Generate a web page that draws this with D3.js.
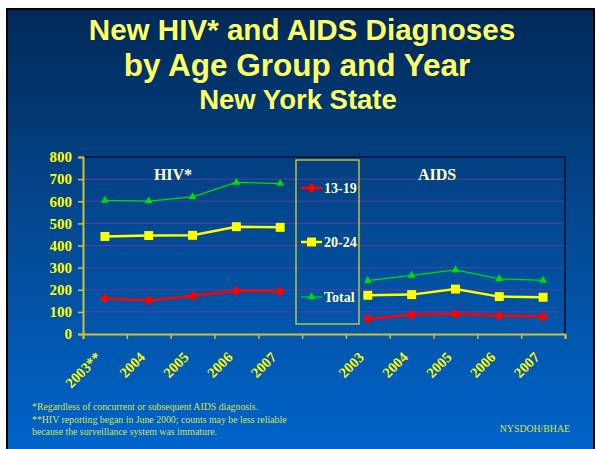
<!DOCTYPE html>
<html>
<head>
<meta charset="utf-8">
<script src="https://cdn.jsdelivr.net/npm/d3@7"></script>
<style>
  body { margin: 0; background: #fff; }
  svg { display: block; }
</style>
</head>
<body>
<svg id="chart" width="596" height="449"></svg>
<script>
// categories: 5 HIV years, one empty slot for the legend, 5 AIDS years
const categories = ["2003**", "2004", "2005", "2006", "2007", "", "2003", "2004", "2005", "2006", "2007"];
const hivIdx = [0, 1, 2, 3, 4];
const aidsIdx = [6, 7, 8, 9, 10];

const hivTeen = [161, 153, 172, 196, 193];
const hiv2024 = [441, 445, 446, 485, 482];
const hivTotal = [604, 601, 620, 685, 680];

const aidsTeen = [68, 87, 90, 83, 78];
const aids2024 = [175, 178, 203, 169, 166];
const aidsTotal = [241, 265, 290, 249, 242];

const seriesNames = ["13-19", "20-24", "Total"];
const yTicks = [0, 100, 200, 300, 400, 500, 600, 700, 800];

const svg = d3.select("#chart");

// slide background
const defs = svg.append("defs");
const grad = defs.append("linearGradient").attr("id", "bg")
    .attr("x1", 0).attr("y1", 0).attr("x2", 0).attr("y2", 1);
grad.append("stop").attr("offset", "0%").attr("stop-color", "#012957");
grad.append("stop").attr("offset", "45%").attr("stop-color", "#03478e");
grad.append("stop").attr("offset", "100%").attr("stop-color", "#0065cc");

svg.append("rect")
    .attr("x", 7).attr("y", 9)
    .attr("width", 587).attr("height", 445)
    .attr("fill", "url(#bg)")
    .attr("stroke", "#000").attr("stroke-width", 2);

// title
const titleLines = [
    { t: "New HIV* and AIDS Diagnoses", x: 302, y: 40, s: 29.6 },
    { t: "by Age Group and Year", x: 297, y: 76, s: 31.5 },
    { t: "New York State", x: 298, y: 109, s: 27.5 }
];
svg.selectAll(".title").data(titleLines).enter()
    .append("text")
    .attr("x", d => d.x).attr("y", d => d.y)
    .attr("text-anchor", "middle")
    .style("font-family", "'Liberation Sans', Arial, sans-serif")
    .style("font-weight", "bold")
    .style("font-size", d => d.s + "px")
    .style("fill", "#ffff66")
    .text(d => d.t);

// plot area
const pL = 83, pR = 565, pT = 157, pB = 334;
const x = d3.scaleBand().domain(d3.range(categories.length)).range([pL, pR]);
const xEdge = d3.scaleLinear().domain([0, categories.length]).range([pL, pR]);
const y = d3.scaleLinear().domain([0, 800]).range([pB, pT]);
const axisColor = "#c8c23c";

// gridlines
svg.append("g").selectAll("line")
    .data(yTicks.filter(v => v > 0 && v < 800)).enter()
    .append("line")
    .attr("x1", pL).attr("x2", pR)
    .attr("y1", d => y(d)).attr("y2", d => y(d))
    .attr("stroke", "#5a3c9c").attr("stroke-width", 1);

// dark frame top and right
svg.append("path")
    .attr("d", `M${pL},${y(800)}H${pR}V${pB}`)
    .attr("fill", "none").attr("stroke", "#0a0f2a").attr("stroke-width", 1.5);

// y axis
const yAxis = svg.append("g")
    .attr("transform", `translate(${pL},0)`)
    .call(d3.axisLeft(y).tickValues(yTicks).tickSize(5).tickPadding(6));
yAxis.select(".domain").attr("stroke", axisColor).attr("stroke-width", 2);
yAxis.selectAll(".tick line").attr("stroke", axisColor).attr("stroke-width", 1.5);
yAxis.selectAll("text")
    .style("font-family", "'Liberation Serif', 'Times New Roman', serif")
    .style("font-weight", "bold")
    .style("font-size", "15px")
    .style("fill", "#ffff00");

// x axis: ticks on band edges
const xAxis = svg.append("g")
    .attr("transform", `translate(0,${pB})`)
    .call(d3.axisBottom(xEdge).tickValues(d3.range(categories.length + 1)).tickSize(5).tickFormat(""));
xAxis.select(".domain").attr("stroke", axisColor).attr("stroke-width", 2);
xAxis.selectAll(".tick line").attr("stroke", axisColor).attr("stroke-width", 1.5);

// x labels, rotated
svg.append("g").selectAll("text")
    .data(categories.map((c, i) => ({ c, i })).filter(d => d.c !== "")).enter()
    .append("text")
    .attr("transform", d => `translate(${x(d.i) + x.bandwidth() / 2 - 10},${pB + 17}) rotate(-45)`)
    .attr("text-anchor", "end")
    .attr("dy", "0.7em")
    .style("font-family", "'Liberation Serif', 'Times New Roman', serif")
    .style("font-weight", "bold")
    .style("font-size", "14.5px")
    .style("fill", "#ffff00")
    .text(d => d.c);

// series
const cx = i => x(i) + x.bandwidth() / 2;
const line = d3.line().x(d => cx(d[0])).y(d => y(d[1]));

const series = [
    { name: seriesNames[2], color: "#00dd00", width: 1.2, shape: d3.symbolTriangle, size: 28, rot: 0, sets: [[hivIdx, hivTotal], [aidsIdx, aidsTotal]] },
    { name: seriesNames[1], color: "#ffff00", width: 2.5, shape: d3.symbolSquare, size: 80, rot: 0, sets: [[hivIdx, hiv2024], [aidsIdx, aids2024]] },
    { name: seriesNames[0], color: "#ff0000", width: 2.5, shape: d3.symbolSquare, size: 50, rot: 45, sets: [[hivIdx, hivTeen], [aidsIdx, aidsTeen]] }
];

series.forEach(s => {
    s.sets.forEach(([idx, vals]) => {
        const pts = idx.map((k, j) => [k, vals[j]]);
        svg.append("path")
            .attr("d", line(pts))
            .attr("fill", "none")
            .attr("stroke", s.color)
            .attr("stroke-width", s.width);
        svg.append("g").selectAll("path")
            .data(pts).enter()
            .append("path")
            .attr("transform", d => `translate(${cx(d[0])},${y(d[1])}) rotate(${s.rot})`)
            .attr("d", d3.symbol().type(s.shape).size(s.size))
            .attr("fill", s.color);
    });
});

// panel labels
const labelStyle = sel => sel
    .style("font-family", "'Liberation Serif', 'Times New Roman', serif")
    .style("font-weight", "bold")
    .style("font-size", "16px")
    .style("fill", "#ffffcc");
svg.append("text").attr("x", 173).attr("y", 180).attr("text-anchor", "middle").text("HIV*").call(labelStyle);
svg.append("text").attr("x", 437).attr("y", 180).attr("text-anchor", "middle").text("AIDS").call(labelStyle);

// legend
const lg = svg.append("g");
lg.append("rect")
    .attr("x", 296).attr("y", 160).attr("width", 63).attr("height", 164)
    .attr("fill", "none").attr("stroke", "#e8e030").attr("stroke-width", 1.2);
const legendY = [188, 242, 297];
[series[2], series[1], series[0]].forEach((s, i) => {
    const ly = legendY[i];
    lg.append("line")
        .attr("x1", 301).attr("x2", 322).attr("y1", ly).attr("y2", ly)
        .attr("stroke", s.color).attr("stroke-width", s.width);
    lg.append("path")
        .attr("transform", `translate(311.5,${ly}) rotate(${s.rot})`)
        .attr("d", d3.symbol().type(s.shape).size(s.size))
        .attr("fill", s.color);
    lg.append("text")
        .attr("x", 324).attr("y", ly + 5)
        .style("font-family", "'Liberation Serif', 'Times New Roman', serif")
        .style("font-weight", "bold")
        .style("font-size", "14px")
        .style("fill", "#ffffcc")
        .text(s.name);
});

// footnotes
const notes = [
    "*Regardless of concurrent or subsequent AIDS diagnosis.",
    "**HIV reporting began in June 2000; counts may be less reliable",
    "because the surveillance system was immature."
];
svg.append("g").selectAll("text")
    .data(notes).enter()
    .append("text")
    .attr("x", 32).attr("y", (d, i) => 410 + i * 12.5)
    .style("font-family", "'Liberation Serif', 'Times New Roman', serif")
    .style("font-size", "9.8px")
    .style("fill", "#d4e24c")
    .text(d => d);
svg.append("text")
    .attr("x", 570).attr("y", 432)
    .attr("text-anchor", "end")
    .style("font-family", "'Liberation Serif', 'Times New Roman', serif")
    .style("font-size", "9.8px")
    .style("fill", "#d4e24c")
    .text("NYSDOH/BHAE");
</script>
</body>
</html>
